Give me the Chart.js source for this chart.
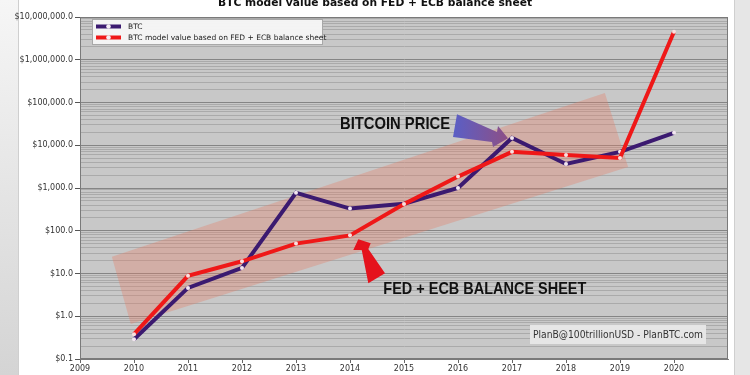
<!DOCTYPE html>
<html>
<head>
<meta charset="utf-8">
<script src="https://cdn.jsdelivr.net/npm/chart.js@4.4.1/dist/chart.umd.min.js"></script>
<style>
    html, body { margin: 0; padding: 0; background: #ececec; }
    #wrap { width: 750px; height: 375px; position: relative; }
</style>
</head>
<body>
<div id="wrap"><canvas id="btc-chart"></canvas></div>
<script>
// BTC price vs model value from FED + ECB balance sheet (log scale)

const years = [2010, 2011, 2012, 2013, 2014, 2015, 2016, 2017, 2018, 2019, 2020];
const btcPrice = [0.29, 4.6, 13.5, 770, 330, 430, 1000, 14800, 3650, 7000, 19500];
const modelValue = [0.38, 8.8, 19.3, 50, 78, 420, 1850, 7000, 5900, 5050, 4500000];

const yearTicks = [2009, 2010, 2011, 2012, 2013, 2014, 2015, 2016, 2017, 2018, 2019, 2020];
const priceTicks = [0.1, 1, 10, 100, 1000, 10000, 100000, 1000000, 10000000];

// trend band corners (year, value)
const bandYears = [2009.59, 2018.72, 2019.15, 2009.94];
const bandValues = [24.7, 166800, 3100, 0.66];

const seriesLabels = ['BTC', 'BTC model value based on FED + ECB balance sheet'];

document.addEventListener('DOMContentLoaded', () => {
    Chart.defaults.font.family = "'DejaVu Sans', sans-serif";

    const isDecade = (v) => Math.abs(Math.log10(v) - Math.round(Math.log10(v))) < 1e-9;

    // fit a text into a given width by squeezing it horizontally
    function fitText(ctx, text, x, y, width, align) {
        const w = ctx.measureText(text).width;
        const sx = width / w;
        ctx.save();
        ctx.translate(x, y);
        ctx.scale(sx, 1);
        ctx.textAlign = align || 'left';
        ctx.fillText(text, 0, 0);
        ctx.restore();
    }

    function drawArrow(ctx, chart, year, value, pts, fill) {
        const x0 = chart.scales.x.getPixelForValue(year);
        const y0 = chart.scales.y.getPixelForValue(value);
        ctx.beginPath();
        pts.forEach(([dx, dy], i) => {
            if (i === 0) ctx.moveTo(x0 + dx, y0 + dy);
            else ctx.lineTo(x0 + dx, y0 + dy);
        });
        ctx.closePath();
        ctx.fillStyle = typeof fill === 'function' ? fill(ctx, x0, y0) : fill;
        ctx.fill();
    }

    const decor = {
        id: 'decor',
        beforeDraw(chart) {
            const ctx = chart.ctx;
            const a = chart.chartArea;
            ctx.save();
            // page around the slide
            ctx.fillStyle = '#e6e6e6';
            ctx.fillRect(0, 0, chart.width, chart.height);
            const g = ctx.createLinearGradient(0, 0, 0, chart.height);
            g.addColorStop(0, '#f6f6f6');
            g.addColorStop(1, '#d4d4d4');
            ctx.fillStyle = g;
            ctx.fillRect(0, 0, 20, chart.height);
            // white frame
            ctx.beginPath();
            ctx.roundRect(18.5, -12, 716, 400, 12);
            ctx.fillStyle = '#ffffff';
            ctx.fill();
            ctx.strokeStyle = '#cfcfcf';
            ctx.lineWidth = 1;
            ctx.stroke();
            // plot background
            ctx.fillStyle = '#c8c8c8';
            ctx.fillRect(a.left, a.top, a.right - a.left, a.bottom - a.top);
            // title, cut by the top edge
            ctx.fillStyle = '#111';
            ctx.font = "bold 11px 'DejaVu Sans', sans-serif";
            ctx.textBaseline = 'alphabetic';
            fitText(ctx, 'BTC model value based on FED + ECB balance sheet', 375, 5.5, 314, 'center');
            ctx.restore();
        },
        beforeDatasetsDraw(chart) {
            const ctx = chart.ctx;
            const xs = chart.scales.x, ys = chart.scales.y;
            ctx.save();
            ctx.beginPath();
            bandYears.forEach((yr, i) => {
                const px = xs.getPixelForValue(yr);
                const py = ys.getPixelForValue(bandValues[i]);
                if (i === 0) ctx.moveTo(px, py); else ctx.lineTo(px, py);
            });
            ctx.closePath();
            ctx.fillStyle = 'rgba(228, 128, 104, 0.36)';
            ctx.fill();
            ctx.restore();
        },
        afterDatasetsDraw(chart) {
            const ctx = chart.ctx;
            const a = chart.chartArea;
            const xs = chart.scales.x, ys = chart.scales.y;
            ctx.save();

            // plot frame
            ctx.strokeStyle = '#7a7a7a';
            ctx.lineWidth = 1;
            ctx.strokeRect(a.left + 0.5, a.top + 0.5, a.right - a.left - 1, a.bottom - a.top - 1);

            // arrows
            drawArrow(ctx, chart, 2016.926, 14550,
                [[0, 0], [-15, 8.7], [-16, 3.7], [-55, -1.3], [-51, -24], [-11, -6.3], [-10, -12.3]],
                (c, x0, y0) => {
                    const g = c.createLinearGradient(x0 - 55, y0, x0, y0);
                    g.addColorStop(0, '#5a5fc6');
                    g.addColorStop(1, '#8d4f86');
                    return g;
                });
            drawArrow(ctx, chart, 2014.154, 63,
                [[0, 0], [12.4, 4], [10, 9.7], [26.7, 34], [10, 44], [3.4, 10.7], [-5, 10.7]],
                '#e5121c');

            // callout texts
            ctx.fillStyle = '#111';
            ctx.font = "bold 17px 'Liberation Sans', sans-serif";
            ctx.textBaseline = 'alphabetic';
            fitText(ctx, 'BITCOIN PRICE', xs.getPixelForValue(2013.815), ys.getPixelForValue(23600), 110);
            fitText(ctx, 'FED + ECB BALANCE SHEET', xs.getPixelForValue(2014.617), ys.getPixelForValue(3.31), 203);

            // legend box
            ctx.fillStyle = 'rgba(246, 246, 246, 0.96)';
            ctx.fillRect(92.5, 19.5, 230, 25);
            ctx.strokeStyle = '#a8a8a8';
            ctx.strokeRect(92.5, 19.5, 230, 25);
            chart.data.datasets.forEach((ds, i) => {
                const y = 26.5 + i * 11;
                ctx.strokeStyle = ds.borderColor;
                ctx.lineWidth = 4;
                ctx.beginPath();
                ctx.moveTo(96, y);
                ctx.lineTo(121, y);
                ctx.stroke();
                ctx.fillStyle = '#f4eef4';
                ctx.beginPath();
                ctx.arc(108.5, y, 2.3, 0, Math.PI * 2);
                ctx.fill();
                ctx.fillStyle = '#222';
                ctx.font = "7.5px 'DejaVu Sans', sans-serif";
                ctx.textBaseline = 'middle';
                ctx.textAlign = 'left';
                ctx.fillText(ds.label, 128, y + 0.5);
            });

            // credit box
            ctx.fillStyle = 'rgba(232, 232, 232, 0.95)';
            ctx.fillRect(a.right - 198, a.bottom - 34, 176, 19);
            ctx.fillStyle = '#333';
            ctx.font = "10px 'DejaVu Sans', sans-serif";
            ctx.textBaseline = 'middle';
            fitText(ctx, 'PlanB@100trillionUSD - PlanBTC.com', a.right - 110, a.bottom - 24, 170, 'center');

            ctx.restore();
        }
    };

    const ctx = document.getElementById('btc-chart').getContext('2d');
    new Chart(ctx, {
        type: 'line',
        data: {
            datasets: [
                {
                    label: seriesLabels[0],
                    data: years.map((yr, i) => ({ x: yr, y: btcPrice[i] })),
                    borderColor: '#3b1a70',
                    borderWidth: 4,
                    pointRadius: 2,
                    pointBackgroundColor: '#f2e6f0',
                    pointBorderWidth: 0,
                    tension: 0,
                    order: 1
                },
                {
                    label: seriesLabels[1],
                    data: years.map((yr, i) => ({ x: yr, y: modelValue[i] })),
                    borderColor: '#ef1818',
                    borderWidth: 4,
                    pointRadius: 2,
                    pointBackgroundColor: '#f8e0e0',
                    pointBorderWidth: 0,
                    tension: 0,
                    order: 0
                }
            ]
        },
        options: {
            responsive: true,
            maintainAspectRatio: false,
            animation: false,
            layout: { padding: { left: 0, right: 22, top: 17, bottom: 0 } },
            plugins: {
                legend: { display: false },
                title: { display: false },
                tooltip: { enabled: false }
            },
            scales: {
                x: {
                    type: 'linear',
                    min: 2009,
                    max: 2021,
                    afterFit: (s) => { s.height = 16; },
                    afterBuildTicks: (s) => { s.ticks = yearTicks.map(v => ({ value: v })); },
                    border: { color: '#7a7a7a' },
                    grid: { drawOnChartArea: false, tickLength: 4, tickColor: '#666' },
                    ticks: {
                        autoSkip: false,
                        maxRotation: 0,
                        padding: 1,
                        color: '#333',
                        font: { size: 8 },
                        callback: (v) => String(v)
                    }
                },
                y: {
                    type: 'logarithmic',
                    min: 0.1,
                    max: 10000000,
                    afterFit: (s) => { s.width = 80; },
                    afterBuildTicks: (s) => {
                        const t = [];
                        priceTicks.forEach((p, i) => {
                            if (i === priceTicks.length - 1) { t.push({ value: p }); return; }
                            for (let m = 1; m < 10; m++) t.push({ value: +(p * m).toPrecision(3) });
                        });
                        s.ticks = t;
                    },
                    border: { color: '#7a7a7a' },
                    grid: {
                        color: (c) => isDecade(c.tick.value) ? '#858585' : '#aaaaaa',
                        tickColor: (c) => isDecade(c.tick.value) ? '#555' : 'rgba(0,0,0,0)',
                        tickLength: 5
                    },
                    ticks: {
                        autoSkip: false,
                        padding: 2,
                        color: '#333',
                        font: { size: 8 },
                        callback: (v) => isDecade(v)
                            ? '$' + v.toLocaleString('en-US', { minimumFractionDigits: 1, maximumFractionDigits: 1 })
                            : ''
                    }
                }
            }
        },
        plugins: [decor]
    });
});
</script>
</body>
</html>
